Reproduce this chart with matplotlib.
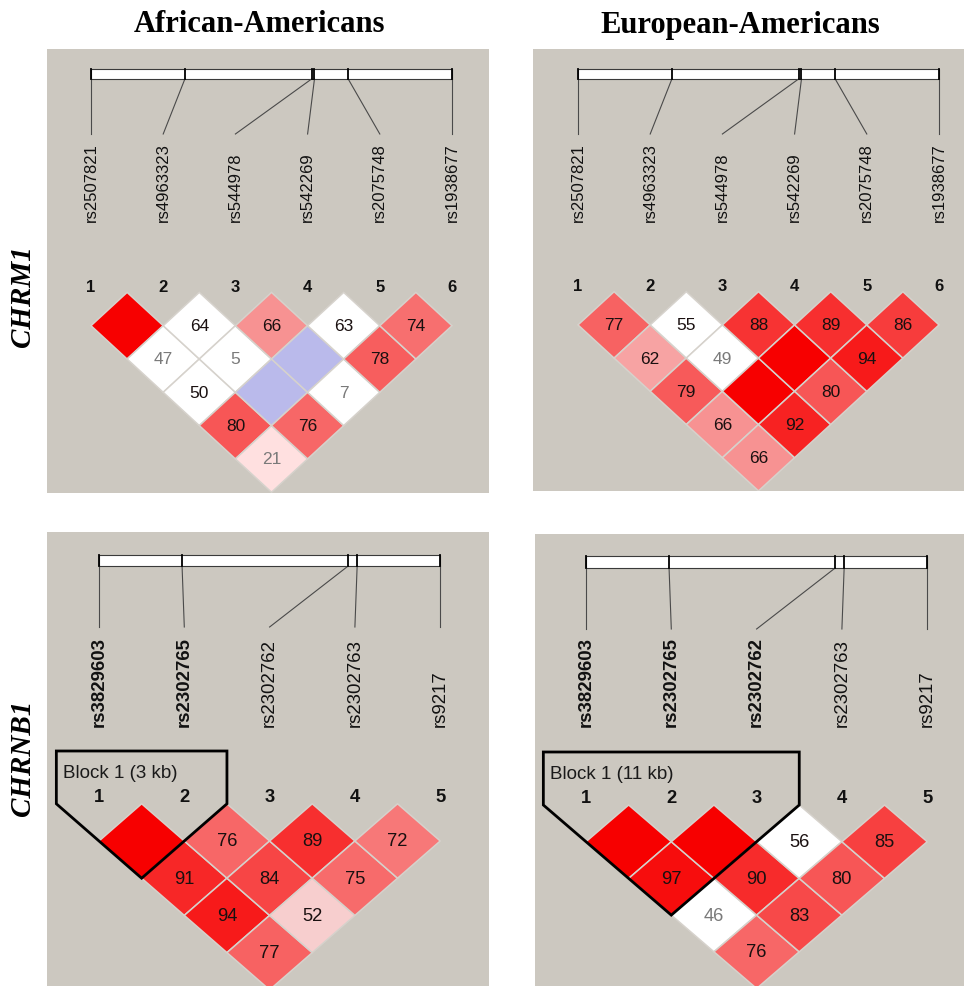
import numpy as np
import matplotlib
matplotlib.use("Agg")
import matplotlib.pyplot as plt
from matplotlib.patches import Polygon, Rectangle

# ---------------------------------------------------------------- data
populations = ["African-Americans", "European-Americans"]
genes = ["CHRM1", "CHRNB1"]

chrm1_snps = ["rs2507821", "rs4963323", "rs544978", "rs542269", "rs2075748", "rs1938677"]
chrm1_pos_kb = [0.0, 5.2, 12.22, 12.38, 14.25, 20.0]

chrnb1_snps = ["rs3829603", "rs2302765", "rs2302762", "rs2302763", "rs9217"]
chrnb1_pos_kb = [0.0, 3.7, 11.1, 11.5, 15.2]

# pairwise D' x 100, listed (1,2),(1,3),...,(n-1,n); strong = LOD >= 2
aa_chrm1_dprime = [100, 47, 50, 80, 21, 64, 5, 100, 76, 66, 100, 7, 63, 78, 74]
aa_chrm1_strong = [1, 0, 0, 1, 1, 0, 0, 0, 1, 1, 0, 0, 0, 1, 1]
aa_chrm1_faint = [0, 1, 0, 0, 1, 0, 1, 0, 0, 0, 0, 1, 0, 0, 0]

ea_chrm1_dprime = [77, 62, 79, 66, 66, 55, 49, 100, 92, 88, 100, 80, 89, 94, 86]
ea_chrm1_strong = [1, 1, 1, 1, 1, 0, 0, 1, 1, 1, 1, 1, 1, 1, 1]
ea_chrm1_faint = [0, 0, 0, 0, 0, 0, 1, 0, 0, 0, 0, 0, 0, 0, 0]

aa_chrnb1_dprime = [100, 91, 94, 77, 76, 84, 52, 89, 75, 72]
aa_chrnb1_strong = [1, 1, 1, 1, 1, 1, 1, 1, 1, 1]
aa_chrnb1_faint = [0, 0, 0, 0, 0, 0, 0, 0, 0, 0]
aa_chrnb1_block = (1, 2)

ea_chrnb1_dprime = [100, 97, 46, 76, 100, 90, 83, 56, 80, 85]
ea_chrnb1_strong = [1, 1, 0, 1, 1, 1, 1, 0, 1, 1]
ea_chrnb1_faint = [0, 0, 1, 0, 0, 0, 0, 0, 0, 0]
ea_chrnb1_block = (1, 3)

# ---------------------------------------------------------------- style
W, H = 964, 987
BG = "#ccc8c0"
EDGE = "#d6d2cc"
SANS = "Liberation Sans"
SERIF = "Liberation Serif"

fig = plt.figure(figsize=(W / 100, H / 100), dpi=100)
fig.patch.set_facecolor("white")


def ld_color(d, strong):
    """Haploview standard D'/LOD colour scheme."""
    if strong:
        if d < 0.5:
            return (1.0, 224 / 255, 224 / 255)
        g = max(0.0, (255 - 32) * 2 * (1 - d)) / 255
        return (0.97, 0.96 * g, 0.96 * g)
    if d >= 0.99:
        return (0.73, 0.73, 0.92)
    return (1.0, 1.0, 1.0)


# panel layouts in figure pixels
top_fonts = dict(snp=12, idx=12, val=12.5, blk=13)
bot_fonts = dict(snp=13.4, idx=13.2, val=13.2, blk=13.5)

layouts = {
    ("CHRM1", 0): dict(rect=(47, 50, 489, 494), x1=91, sx=72.2, y0=293.4, uy=66.6,
                       bar=(70, 80), conn=135, lab=222, num=288, fonts=top_fonts),
    ("CHRM1", 1): dict(rect=(533, 50, 964, 492), x1=578, sx=72.2, y0=292.7, uy=66.4,
                       bar=(70, 80), conn=135, lab=222, num=287, fonts=top_fonts),
    ("CHRNB1", 0): dict(rect=(47, 533, 489, 987), x1=99, sx=85.3, y0=804.8, uy=74.4,
                        bar=(556, 567), conn=628, lab=727, num=797, btop=752, blab=773,
                        fonts=bot_fonts),
    ("CHRNB1", 1): dict(rect=(535, 535, 964, 987), x1=586, sx=85.3, y0=806, uy=73.4,
                        bar=(557, 569), conn=630, lab=727, num=799, btop=753, blab=775,
                        fonts=bot_fonts),
}


def draw_panel(lay, snps, pos, dprime, strong, faint, block=None):
    L, T, R, B = lay["rect"]
    px_x = lambda p: 1 + (p - lay["x1"]) / lay["sx"]
    px_y = lambda p: (p - lay["y0"]) / lay["uy"]
    f = lay["fonts"]

    ax = fig.add_axes([L / W, 1 - B / H, (R - L) / W, (B - T) / H])
    ax.set_xlim(px_x(L), px_x(R))
    ax.set_ylim(px_y(B), px_y(T))
    ax.set_facecolor(BG)
    for s in ax.spines.values():
        s.set_visible(False)
    ax.set_xticks([])
    ax.set_yticks([])

    n = len(snps)
    idx = np.arange(1, n + 1)
    pos = np.asarray(pos, float)
    bx = 1 + (n - 1) * (pos - pos[0]) / (pos[-1] - pos[0])
    bt, bb = px_y(lay["bar"][0]), px_y(lay["bar"][1])
    y_conn, y_lab, y_num = px_y(lay["conn"]), px_y(lay["lab"]), px_y(lay["num"])

    in_block = set(range(block[0], block[1] + 1)) if block else set()

    # gene map with SNP ticks and connectors
    ax.add_patch(Rectangle((1, bt), n - 1, bb - bt, facecolor="white",
                           edgecolor="#3a3a3a", lw=0.8, zorder=2))
    for k in range(n):
        ax.plot([bx[k], bx[k]], [bt, bb], color="black", lw=1.3, zorder=3)
        ax.plot([bx[k], idx[k]], [bb, y_conn], color="#4a4a4a", lw=0.8, zorder=2)
        ax.text(idx[k], y_lab, snps[k], rotation=90, ha="center", va="bottom",
                family=SANS, fontsize=f["snp"], color="#111111",
                fontweight="bold" if (k + 1) in in_block else "normal")
        ax.text(idx[k], y_num, str(k + 1), ha="center", va="center",
                family=SANS, fontsize=f["idx"], fontweight="bold", color="#111111")

    # LD diamonds
    pairs = [(i, j) for i in range(1, n + 1) for j in range(i + 1, n + 1)]
    for (i, j), d, s, fa in zip(pairs, dprime, strong, faint):
        cx, cy = (i + j) / 2, (j - i) / 2
        ax.add_patch(Polygon([(cx - 0.5, cy), (cx, cy - 0.5), (cx + 0.5, cy), (cx, cy + 0.5)],
                             closed=True, facecolor=ld_color(d / 100, s),
                             edgecolor=EDGE, lw=1.1, zorder=4))
        if d < 100:
            ax.text(cx, cy, str(d), ha="center", va="center", family=SANS,
                    fontsize=f["val"], color="#7a7a7a" if fa else "#1a1010", zorder=5)

    # haplotype block outline
    if block:
        a, b = block
        top = px_y(lay["btop"])
        verts = [(a - 0.5, top), (b + 0.5, top), (b + 0.5, 0),
                 ((a + b) / 2, (b - a) / 2 + 0.5), (a - 0.5, 0)]
        ax.add_patch(Polygon(verts, closed=True, fill=False, edgecolor="black",
                             lw=2.0, joinstyle="miter", zorder=6))
        size_kb = int(pos[b - 1] - pos[a - 1])
        ax.text(a - 0.5 + 0.08, px_y(lay["blab"]), f"Block 1 ({size_kb} kb)",
                ha="left", va="center", family=SANS, fontsize=f["blk"],
                color="#1a1a1a", zorder=6)
    return ax


draw_panel(layouts[("CHRM1", 0)], chrm1_snps, chrm1_pos_kb,
           aa_chrm1_dprime, aa_chrm1_strong, aa_chrm1_faint)
draw_panel(layouts[("CHRM1", 1)], chrm1_snps, chrm1_pos_kb,
           ea_chrm1_dprime, ea_chrm1_strong, ea_chrm1_faint)
draw_panel(layouts[("CHRNB1", 0)], chrnb1_snps, chrnb1_pos_kb,
           aa_chrnb1_dprime, aa_chrnb1_strong, aa_chrnb1_faint, aa_chrnb1_block)
draw_panel(layouts[("CHRNB1", 1)], chrnb1_snps, chrnb1_pos_kb,
           ea_chrnb1_dprime, ea_chrnb1_strong, ea_chrnb1_faint, ea_chrnb1_block)

# column and row headings
for name, xc in zip(populations, [260, 740]):
    fig.text(xc / W, 1 - 25 / H, name, ha="center", va="center",
             family=SERIF, fontweight="bold", fontsize=22)
for name, yc in zip(genes, [296, 758]):
    fig.text(23 / W, 1 - yc / H, name, rotation=90, ha="center", va="center",
             family=SERIF, fontweight="bold", fontstyle="italic", fontsize=21)

fig.savefig("out.png", dpi=100, facecolor="white")
